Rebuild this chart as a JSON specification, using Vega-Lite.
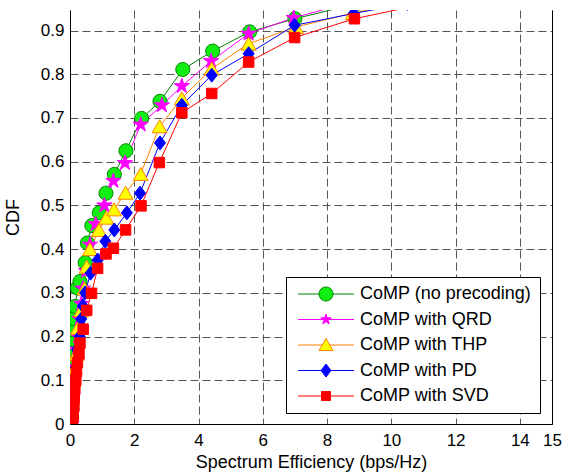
{
  "$schema": "https://vega.github.io/schema/vega-lite/v6.json",
  "width": 482,
  "height": 414,
  "autosize": "none",
  "padding": {"left": 70, "top": 10, "right": 12, "bottom": 49},
  "background": "white",
  "config": {
    "view": {"stroke": null},
    "axis": {
      "labelFont": "Liberation Sans", "labelFontSize": 17, "labelColor": "black",
      "titleFont": "Liberation Sans", "titleFontSize": 18, "titleFontWeight": "normal", "titleColor": "black",
      "domainColor": "black", "domainWidth": 1,
      "ticks": false,
      "gridColor": "#555555", "gridDash": [8, 4], "gridWidth": 1, "gridOpacity": 1
    }
  },
  "data": {"values": [
    {"s":"CoMP (no precoding)","x":0.02,"y":0.0},
    {"s":"CoMP (no precoding)","x":0.04,"y":0.01},
    {"s":"CoMP (no precoding)","x":0.03,"y":0.03},
    {"s":"CoMP (no precoding)","x":0.05,"y":0.05},
    {"s":"CoMP (no precoding)","x":0.02,"y":0.07},
    {"s":"CoMP (no precoding)","x":0.0,"y":0.096},
    {"s":"CoMP (no precoding)","x":0.02,"y":0.11},
    {"s":"CoMP (no precoding)","x":0.05,"y":0.13},
    {"s":"CoMP (no precoding)","x":0.07,"y":0.15},
    {"s":"CoMP (no precoding)","x":0.03,"y":0.17},
    {"s":"CoMP (no precoding)","x":0.02,"y":0.194},
    {"s":"CoMP (no precoding)","x":0.08,"y":0.216},
    {"s":"CoMP (no precoding)","x":0.12,"y":0.241},
    {"s":"CoMP (no precoding)","x":0.16,"y":0.269},
    {"s":"CoMP (no precoding)","x":0.23,"y":0.311},
    {"s":"CoMP (no precoding)","x":0.31,"y":0.326},
    {"s":"CoMP (no precoding)","x":0.47,"y":0.369},
    {"s":"CoMP (no precoding)","x":0.54,"y":0.414},
    {"s":"CoMP (no precoding)","x":0.68,"y":0.454},
    {"s":"CoMP (no precoding)","x":0.91,"y":0.483},
    {"s":"CoMP (no precoding)","x":1.12,"y":0.528},
    {"s":"CoMP (no precoding)","x":1.38,"y":0.571},
    {"s":"CoMP (no precoding)","x":1.74,"y":0.625},
    {"s":"CoMP (no precoding)","x":2.23,"y":0.699},
    {"s":"CoMP (no precoding)","x":2.8,"y":0.738},
    {"s":"CoMP (no precoding)","x":3.51,"y":0.811},
    {"s":"CoMP (no precoding)","x":4.44,"y":0.853},
    {"s":"CoMP (no precoding)","x":5.59,"y":0.897},
    {"s":"CoMP (no precoding)","x":7.0,"y":0.927},
    {"s":"CoMP (no precoding)","x":9.0,"y":0.963},

    {"s":"CoMP with QRD","x":0.05,"y":0.0},
    {"s":"CoMP with QRD","x":0.06,"y":0.03},
    {"s":"CoMP with QRD","x":0.08,"y":0.06},
    {"s":"CoMP with QRD","x":0.1,"y":0.1},
    {"s":"CoMP with QRD","x":0.15,"y":0.13},
    {"s":"CoMP with QRD","x":0.2,"y":0.17},
    {"s":"CoMP with QRD","x":0.25,"y":0.2},
    {"s":"CoMP with QRD","x":0.3,"y":0.24},
    {"s":"CoMP with QRD","x":0.35,"y":0.275},
    {"s":"CoMP with QRD","x":0.4,"y":0.31},
    {"s":"CoMP with QRD","x":0.5,"y":0.35},
    {"s":"CoMP with QRD","x":0.62,"y":0.41},
    {"s":"CoMP with QRD","x":0.8,"y":0.457},
    {"s":"CoMP with QRD","x":1.07,"y":0.5},
    {"s":"CoMP with QRD","x":1.35,"y":0.556},
    {"s":"CoMP with QRD","x":1.71,"y":0.597},
    {"s":"CoMP with QRD","x":2.2,"y":0.685},
    {"s":"CoMP with QRD","x":2.86,"y":0.729},
    {"s":"CoMP with QRD","x":3.48,"y":0.773},
    {"s":"CoMP with QRD","x":4.39,"y":0.83},
    {"s":"CoMP with QRD","x":5.56,"y":0.893},
    {"s":"CoMP with QRD","x":6.96,"y":0.929},
    {"s":"CoMP with QRD","x":8.6,"y":0.962},

    {"s":"CoMP with THP","x":0.03,"y":0.0},
    {"s":"CoMP with THP","x":0.05,"y":0.03},
    {"s":"CoMP with THP","x":0.07,"y":0.06},
    {"s":"CoMP with THP","x":0.1,"y":0.1},
    {"s":"CoMP with THP","x":0.15,"y":0.13},
    {"s":"CoMP with THP","x":0.2,"y":0.16},
    {"s":"CoMP with THP","x":0.25,"y":0.22},
    {"s":"CoMP with THP","x":0.35,"y":0.26},
    {"s":"CoMP with THP","x":0.45,"y":0.31},
    {"s":"CoMP with THP","x":0.52,"y":0.36},
    {"s":"CoMP with THP","x":0.62,"y":0.4},
    {"s":"CoMP with THP","x":0.9,"y":0.444},
    {"s":"CoMP with THP","x":1.13,"y":0.472},
    {"s":"CoMP with THP","x":1.37,"y":0.491},
    {"s":"CoMP with THP","x":1.73,"y":0.529},
    {"s":"CoMP with THP","x":2.2,"y":0.572},
    {"s":"CoMP with THP","x":2.79,"y":0.681},
    {"s":"CoMP with THP","x":3.48,"y":0.745},
    {"s":"CoMP with THP","x":4.41,"y":0.813},
    {"s":"CoMP with THP","x":5.56,"y":0.87},
    {"s":"CoMP with THP","x":7.03,"y":0.908},
    {"s":"CoMP with THP","x":8.8,"y":0.94},
    {"s":"CoMP with THP","x":10.5,"y":0.965},

    {"s":"CoMP with PD","x":0.05,"y":0.0},
    {"s":"CoMP with PD","x":0.08,"y":0.03},
    {"s":"CoMP with PD","x":0.1,"y":0.06},
    {"s":"CoMP with PD","x":0.12,"y":0.1},
    {"s":"CoMP with PD","x":0.18,"y":0.13},
    {"s":"CoMP with PD","x":0.22,"y":0.17},
    {"s":"CoMP with PD","x":0.3,"y":0.2},
    {"s":"CoMP with PD","x":0.35,"y":0.24},
    {"s":"CoMP with PD","x":0.4,"y":0.27},
    {"s":"CoMP with PD","x":0.47,"y":0.3},
    {"s":"CoMP with PD","x":0.64,"y":0.345},
    {"s":"CoMP with PD","x":0.86,"y":0.375},
    {"s":"CoMP with PD","x":1.1,"y":0.418},
    {"s":"CoMP with PD","x":1.38,"y":0.444},
    {"s":"CoMP with PD","x":1.77,"y":0.483},
    {"s":"CoMP with PD","x":2.18,"y":0.528},
    {"s":"CoMP with PD","x":2.8,"y":0.643},
    {"s":"CoMP with PD","x":3.48,"y":0.729},
    {"s":"CoMP with PD","x":4.41,"y":0.798},
    {"s":"CoMP with PD","x":5.56,"y":0.847},
    {"s":"CoMP with PD","x":6.99,"y":0.912},
    {"s":"CoMP with PD","x":8.83,"y":0.939},
    {"s":"CoMP with PD","x":10.5,"y":0.962},

    {"s":"CoMP with SVD","x":0.08,"y":0.0},
    {"s":"CoMP with SVD","x":0.1,"y":0.02},
    {"s":"CoMP with SVD","x":0.12,"y":0.04},
    {"s":"CoMP with SVD","x":0.13,"y":0.06},
    {"s":"CoMP with SVD","x":0.15,"y":0.08},
    {"s":"CoMP with SVD","x":0.18,"y":0.1},
    {"s":"CoMP with SVD","x":0.2,"y":0.12},
    {"s":"CoMP with SVD","x":0.23,"y":0.14},
    {"s":"CoMP with SVD","x":0.28,"y":0.16},
    {"s":"CoMP with SVD","x":0.31,"y":0.185},
    {"s":"CoMP with SVD","x":0.41,"y":0.217},
    {"s":"CoMP with SVD","x":0.52,"y":0.26},
    {"s":"CoMP with SVD","x":0.67,"y":0.299},
    {"s":"CoMP with SVD","x":0.86,"y":0.356},
    {"s":"CoMP with SVD","x":1.12,"y":0.389},
    {"s":"CoMP with SVD","x":1.35,"y":0.402},
    {"s":"CoMP with SVD","x":1.73,"y":0.444},
    {"s":"CoMP with SVD","x":2.21,"y":0.499},
    {"s":"CoMP with SVD","x":2.78,"y":0.598},
    {"s":"CoMP with SVD","x":3.48,"y":0.712},
    {"s":"CoMP with SVD","x":4.41,"y":0.756},
    {"s":"CoMP with SVD","x":5.56,"y":0.828},
    {"s":"CoMP with SVD","x":6.99,"y":0.884},
    {"s":"CoMP with SVD","x":8.85,"y":0.927},
    {"s":"CoMP with SVD","x":11.3,"y":0.965}
  ]},
  "layer": [
    {
      "mark": {"type": "line", "strokeWidth": 1, "clip": true},
      "encoding": {
        "x": {"field": "x", "type": "quantitative", "scale": {"domain": [0, 15], "nice": false, "zero": false},
              "axis": {"values": [0,2,4,6,8,10,12,14,15], "format": "d", "labelPadding": 8, "title": "Spectrum Efficiency (bps/Hz)", "titlePadding": 5, "labelFlush": false}},
        "y": {"field": "y", "type": "quantitative", "scale": {"domain": [0, 0.947], "nice": false, "zero": false},
              "axis": {"values": [0,0.1,0.2,0.3,0.4,0.5,0.6,0.7,0.8,0.9], "format": ".1~f", "labelPadding": 6, "title": "CDF", "titlePadding": 18, "labelFlush": false}},
        "stroke": {"field": "s", "type": "nominal",
                   "scale": {"domain": ["CoMP (no precoding)","CoMP with QRD","CoMP with THP","CoMP with PD","CoMP with SVD"],
                             "range": ["#008000","#ff00ff","#ff8000","#0000ff","#ff0000"]},
                   "legend": {"orient": "none", "legendX": 216, "legendY": 267, "title": null, "fillColor": "white", "strokeColor": "black", "padding": 8,
                              "labelFont": "Liberation Sans", "labelFontSize": 18, "labelColor": "black", "labelLimit": 0,
                              "symbolSize": 196, "symbolStrokeWidth": 1, "symbolOffset": 23, "labelOffset": 25, "rowPadding": 7.5,
                              "symbolType": {"expr": "datum.value === 'CoMP (no precoding)' ? 'M-4,0L-1,0M1,0L4,0M-1,0A1,1,0,1,1,1,0A1,1,0,1,1,-1,0Z' : datum.value === 'CoMP with QRD' ? 'M-4,0L4,0M0,-0.79L0.178,-0.244L0.751,-0.244L0.287,0.093L0.464,0.639L0,0.302L-0.464,0.639L-0.287,0.093L-0.751,-0.244L-0.178,-0.244Z' : datum.value === 'CoMP with THP' ? 'M-4,0L-0.54,0M0.54,0L4,0M0,-0.93L1,0.79L-1,0.79Z' : datum.value === 'CoMP with PD' ? 'M-4,0L4,0M0,-0.93L0.71,0L0,0.93L-0.71,0Z' : 'M-4,0L4,0M-0.64,-0.64L0.64,-0.64L0.64,0.64L-0.64,0.64Z'"}}},
        "order": {"field": "y", "type": "quantitative"}
      }
    },
    {
      "mark": {"type": "point", "filled": true, "size": 196, "strokeWidth": 1, "opacity": 1, "clip": true},
      "encoding": {
        "x": {"field": "x", "type": "quantitative", "scale": {"domain": [0, 15], "nice": false, "zero": false},
              "axis": {"values": [0,2,4,6,8,10,12,14,15], "format": "d", "labelPadding": 8, "title": "Spectrum Efficiency (bps/Hz)", "titlePadding": 5, "labelFlush": false}},
        "y": {"field": "y", "type": "quantitative", "scale": {"domain": [0, 0.947], "nice": false, "zero": false},
              "axis": {"orient": "right", "labels": false, "grid": false, "ticks": false, "title": null, "domain": true}},
        "stroke": {"field": "s", "type": "nominal",
                   "scale": {"domain": ["CoMP (no precoding)","CoMP with QRD","CoMP with THP","CoMP with PD","CoMP with SVD"],
                             "range": ["#008000","#ff00ff","#ff8000","#0000ff","#ff0000"]}},
        "fill": {"field": "s", "type": "nominal",
                 "scale": {"domain": ["CoMP (no precoding)","CoMP with QRD","CoMP with THP","CoMP with PD","CoMP with SVD"],
                           "range": ["#11ee11","#ff00ff","#ffff00","#0000ff","#ff0000"]},
                 "legend": {"orient": "none", "legendX": 216, "legendY": 267, "title": null, "fillColor": "white", "strokeColor": "black", "padding": 8,
                            "labelFont": "Liberation Sans", "labelFontSize": 18, "labelColor": "black", "labelLimit": 0,
                            "symbolSize": 196, "symbolStrokeWidth": 1, "symbolOffset": 23, "labelOffset": 25, "rowPadding": 7.5,
                            "symbolType": {"expr": "datum.value === 'CoMP (no precoding)' ? 'M-4,0L-1,0M1,0L4,0M-1,0A1,1,0,1,1,1,0A1,1,0,1,1,-1,0Z' : datum.value === 'CoMP with QRD' ? 'M-4,0L4,0M0,-0.79L0.178,-0.244L0.751,-0.244L0.287,0.093L0.464,0.639L0,0.302L-0.464,0.639L-0.287,0.093L-0.751,-0.244L-0.178,-0.244Z' : datum.value === 'CoMP with THP' ? 'M-4,0L-0.54,0M0.54,0L4,0M0,-0.93L1,0.79L-1,0.79Z' : datum.value === 'CoMP with PD' ? 'M-4,0L4,0M0,-0.93L0.71,0L0,0.93L-0.71,0Z' : 'M-4,0L4,0M-0.64,-0.64L0.64,-0.64L0.64,0.64L-0.64,0.64Z'"}}},
        "shape": {"field": "s", "type": "nominal", "legend": null,
                  "scale": {"domain": ["CoMP with QRD","CoMP (no precoding)","CoMP with THP","CoMP with PD","CoMP with SVD"],
                            "range": ["M0,-1.14L0.256,-0.353L1.085,-0.353L0.414,0.135L0.671,0.923L0,0.436L-0.671,0.923L-0.414,0.135L-1.085,-0.353L-0.256,-0.353Z",
                                      "M-1,0A1,1,0,1,1,1,0A1,1,0,1,1,-1,0Z",
                                      "M0,-0.93L1.07,0.93L-1.07,0.93Z",
                                      "M0,-1L0.79,0L0,1L-0.79,0Z",
                                      "M-0.75,-0.75L0.75,-0.75L0.75,0.75L-0.75,0.75Z"]}}
      }
    }
  ],
  "resolve": {"axis": {"y": "independent"}}
}
